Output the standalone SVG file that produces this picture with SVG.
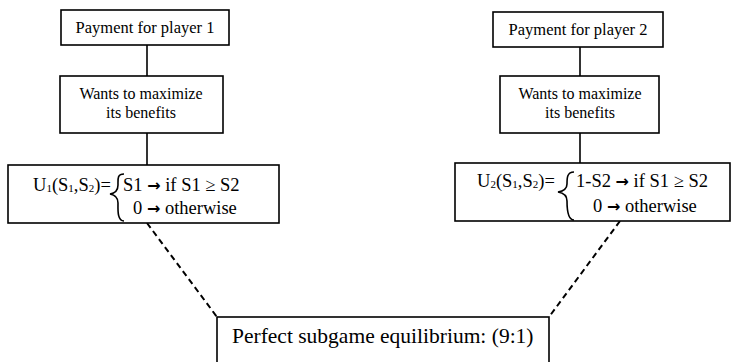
<svg xmlns="http://www.w3.org/2000/svg" width="731" height="362" viewBox="0 0 731 362">
  <style>
    .box { fill: #ffffff; stroke: #000000; stroke-width: 1.6; }
    .link { stroke: #000000; stroke-width: 1.6; fill: none; }
    .dash { stroke: #000000; stroke-width: 2; stroke-dasharray: 6 4; fill: none; }
    .brace { stroke: #000000; stroke-width: 1.6; fill: none; }
    text { font-family: "Liberation Serif", "Times New Roman", serif; fill: #000000; }
    .t16 { font-size: 16.5px; }
    .t15 { font-size: 16px; }
    .t18 { font-size: 18.5px; }
    .t21 { font-size: 21.5px; }
    .sub { font-size: 11px; }
    .arr { font-family: "DejaVu Sans", sans-serif; font-weight: bold; font-size: 16px; }
  </style>
  <rect width="731" height="362" fill="#ffffff"/>

  <g id="connectors">
    <line class="link" x1="147" y1="45" x2="147" y2="76"/>
    <line class="link" x1="147" y1="133" x2="147" y2="165"/>
    <line class="link" x1="580" y1="47" x2="580" y2="76"/>
    <line class="link" x1="580" y1="133" x2="580" y2="163"/>
    <line class="dash" x1="147" y1="223" x2="217" y2="317"/>
    <line class="dash" x1="620" y1="221" x2="549" y2="317"/>
  </g>

  <g id="payment1">
    <rect class="box" x="61" y="10" width="168" height="35"/>
    <text class="t16" x="145" y="33" text-anchor="middle">Payment for player 1</text>
  </g>
  <g id="maximize1">
    <rect class="box" x="60" y="76" width="163" height="57"/>
    <text class="t15" x="141" y="98.5" text-anchor="middle">Wants to maximize</text>
    <text class="t15" x="141" y="117.5" text-anchor="middle">its benefits</text>
  </g>
  <g id="utility1">
    <rect class="box" x="8" y="165" width="271" height="58"/>
    <text class="t18" x="33" y="191">U<tspan class="sub" dy="1">1</tspan><tspan dy="-1">(S</tspan><tspan class="sub" dy="1">1</tspan><tspan dy="-1">,S</tspan><tspan class="sub" dy="1">2</tspan><tspan dy="-1">)=</tspan></text>
    <path class="brace" d="M124,174 C117,174 118,179 118,185 C118,190 116,193 110,194 C116,195 118,198 118,203 C118,209 117,221 124,221"/>
    <text class="t18" x="123" y="191">S1 <tspan class="arr">→</tspan> if S1 ≥ S2</text>
    <text class="t18" x="133" y="214">0 <tspan class="arr">→</tspan> otherwise</text>
  </g>

  <g id="payment2">
    <rect class="box" x="493" y="12" width="170" height="35"/>
    <text class="t16" x="578" y="35" text-anchor="middle">Payment for player 2</text>
  </g>
  <g id="maximize2">
    <rect class="box" x="500" y="76" width="159" height="57"/>
    <text class="t15" x="580" y="98.5" text-anchor="middle">Wants to maximize</text>
    <text class="t15" x="580" y="117.5" text-anchor="middle">its benefits</text>
  </g>
  <g id="utility2">
    <rect class="box" x="455" y="163" width="275" height="58"/>
    <text class="t18" x="477" y="187">U<tspan class="sub" dy="1">2</tspan><tspan dy="-1">(S</tspan><tspan class="sub" dy="1">1</tspan><tspan dy="-1">,S</tspan><tspan class="sub" dy="1">2</tspan><tspan dy="-1">)=</tspan></text>
    <path class="brace" d="M574,172 C567,172 567,178 567,184 C567,189 564,191 558,192 C564,193 567,196 567,201 C567,207 567,220 574,220"/>
    <text class="t18" x="576" y="187">1-S2 <tspan class="arr">→</tspan> if S1 ≥ S2</text>
    <text class="t18" x="593" y="212">0 <tspan class="arr">→</tspan> otherwise</text>
  </g>

  <g id="equilibrium">
    <rect class="box" x="217" y="317" width="332" height="60"/>
    <text class="t21" x="232" y="343">Perfect subgame equilibrium: (9:1)</text>
  </g>
</svg>
